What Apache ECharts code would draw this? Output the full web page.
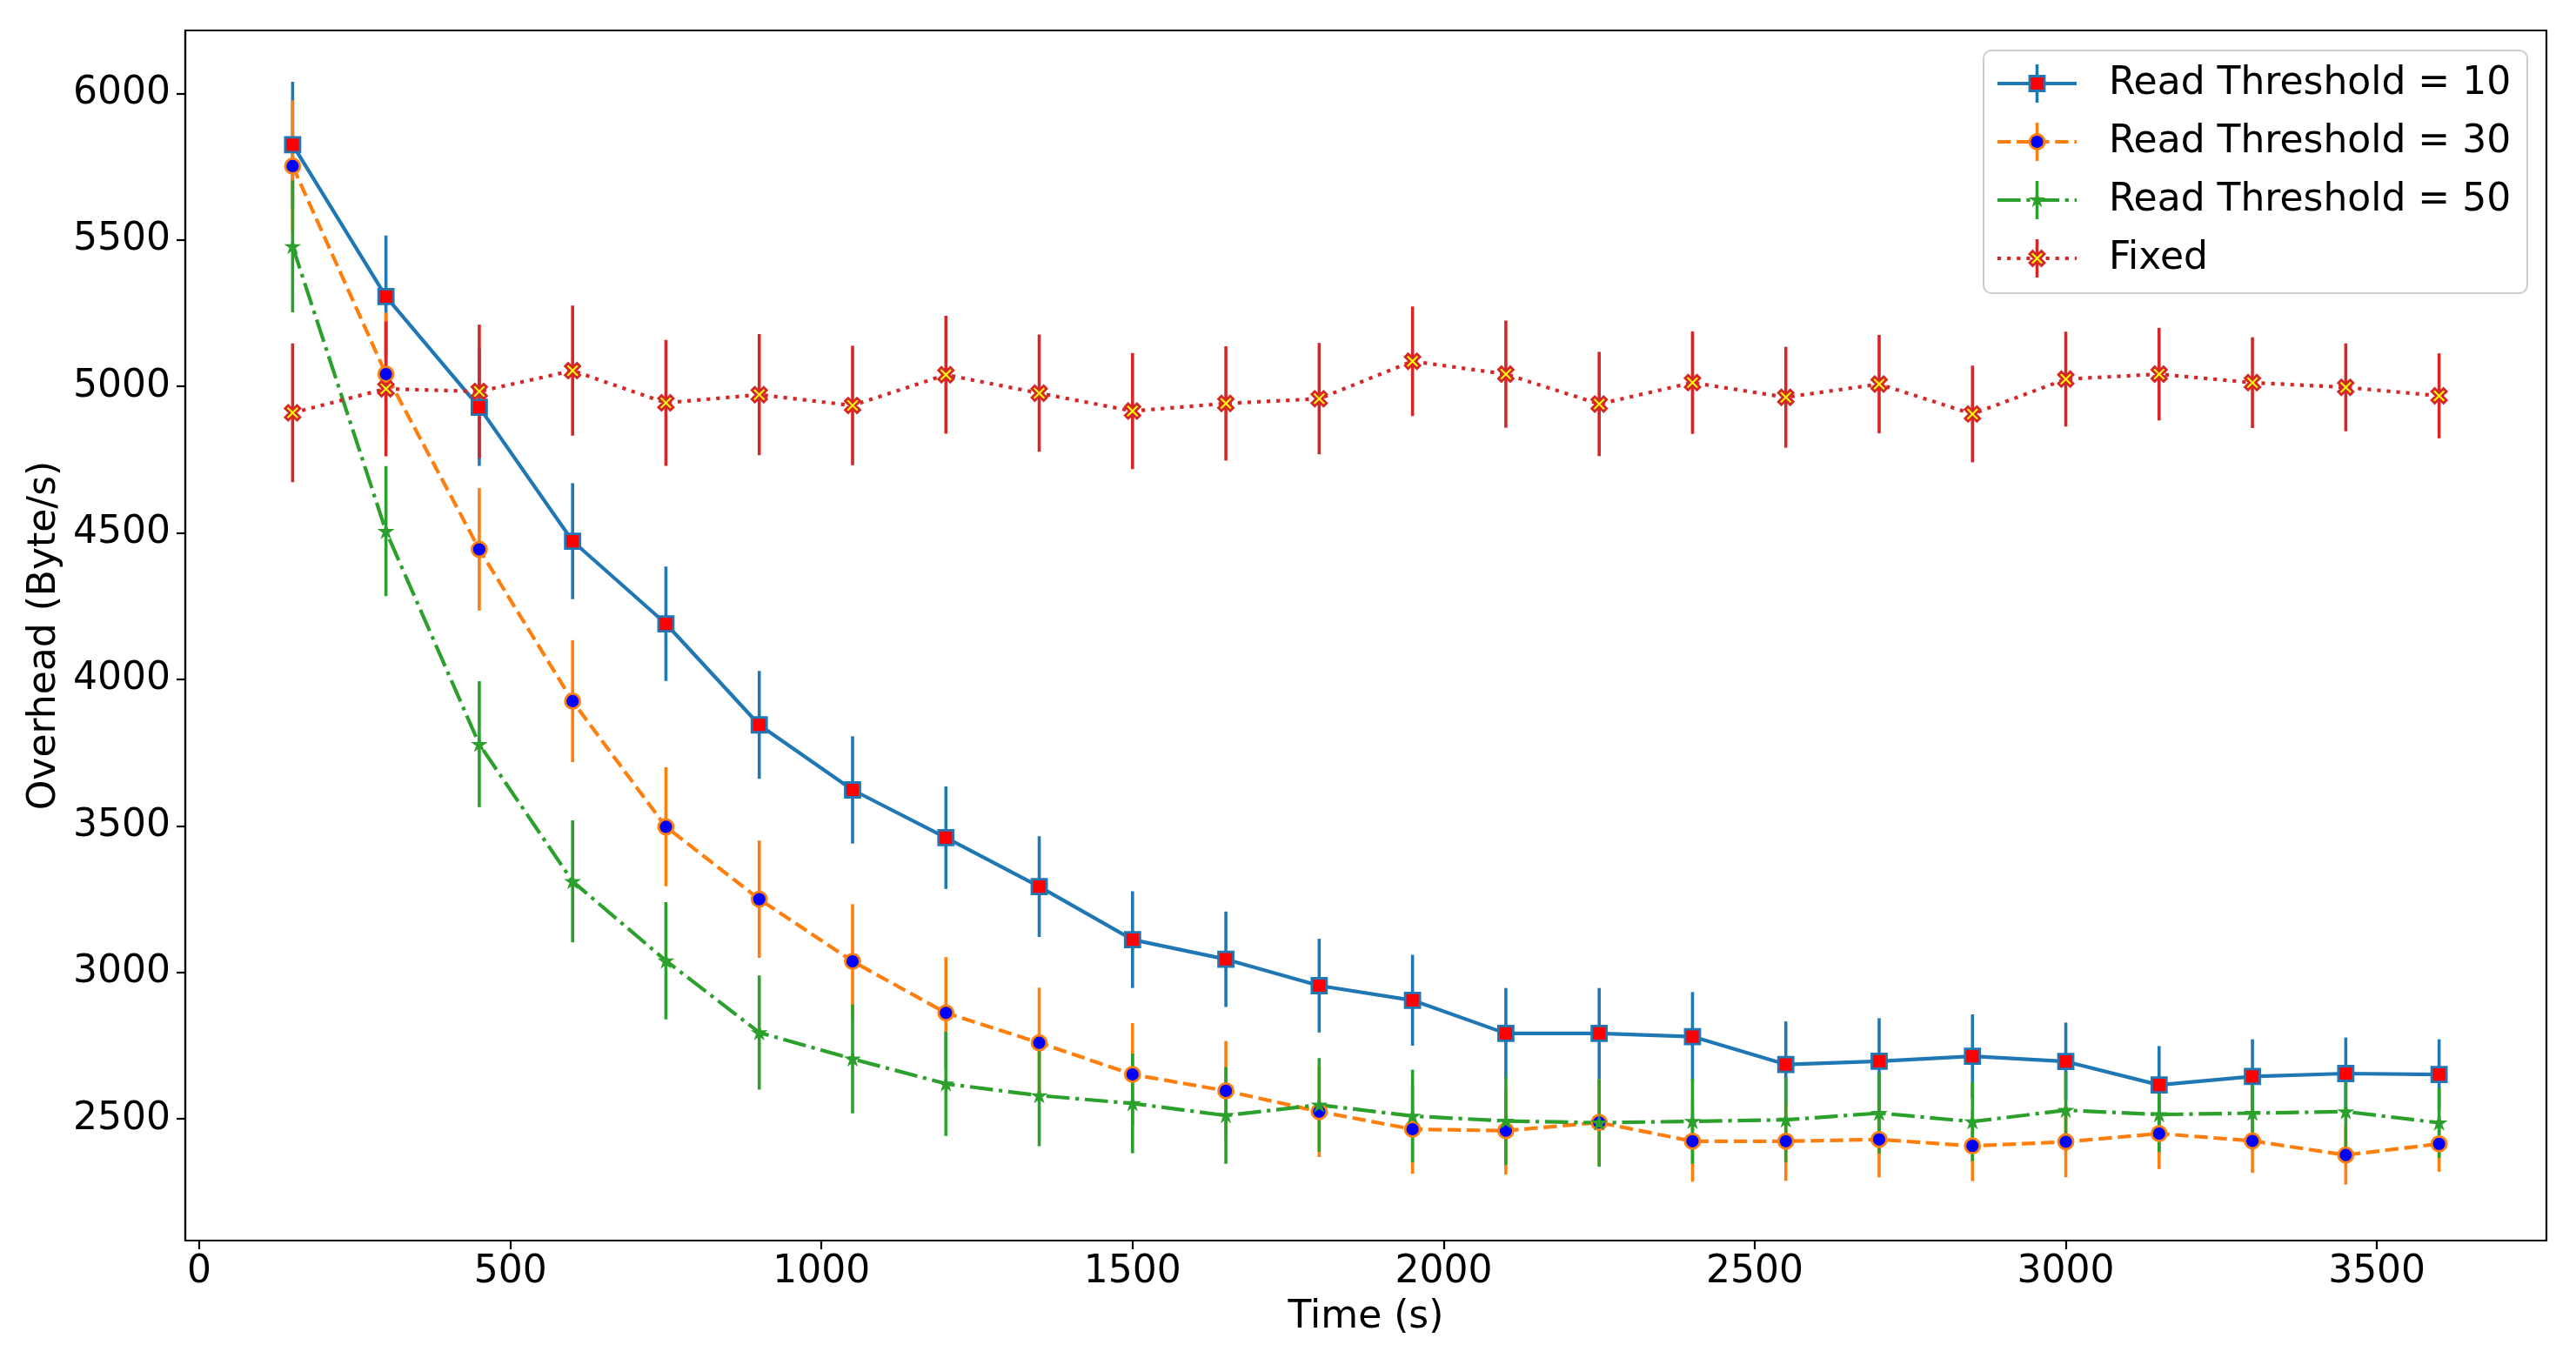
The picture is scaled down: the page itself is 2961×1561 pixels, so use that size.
<!DOCTYPE html>
<html>
<head>
<meta charset="utf-8">
<script src="https://cdn.jsdelivr.net/npm/echarts@6/dist/echarts.min.js"></script>
<style>
html,body{margin:0;padding:0;background:#fff;}
#chart{width:2961px;height:1561px;}
</style>
</head>
<body>
<div id="chart"></div>
<script>
// ---- data ----
const times = [150,300,450,600,750,900,1050,1200,1350,1500,1650,1800,1950,2100,2250,2400,2550,2700,2850,3000,3150,3300,3450,3600];

const rt10Mean = [5825,5307,4929,4472,4190,3845,3623,3460,3293,3112,3045,2955,2905,2792,2792,2781,2686,2697,2714,2696,2616,2645,2655,2652];
const rt10Err  = [215,208,200,198,195,184,183,175,172,165,163,160,155,155,155,152,147,147,143,133,133,127,123,120];

const rt30Mean = [5752,5042,4444,3926,3497,3250,3038,2862,2760,2652,2596,2525,2465,2460,2488,2424,2424,2430,2408,2422,2450,2425,2377,2415];
const rt30Err  = [225,210,209,208,203,200,195,190,188,175,170,155,152,150,145,138,135,129,120,121,121,109,101,95];

const rt50Mean = [5478,4506,3779,3311,3040,2795,2705,2620,2580,2553,2512,2548,2510,2493,2487,2492,2497,2520,2491,2530,2515,2520,2525,2487];
const rt50Err  = [225,222,215,208,200,195,186,178,173,170,165,160,158,150,150,145,145,138,135,130,128,125,122,120];

const fixedMean = [4910,4992,4983,5054,4944,4972,4935,5040,4977,4916,4942,4958,5086,5042,4940,5013,4963,5008,4906,5025,5042,5013,4997,4968];
const fixedErr  = [237,230,228,222,215,207,204,201,200,198,195,190,187,183,178,175,172,168,165,162,158,155,150,145];

const xTicks = [0,500,1000,1500,2000,2500,3000,3500];
const yTicks = [2500,3000,3500,4000,4500,5000,5500,6000];

const seriesNames = ['Read Threshold = 10','Read Threshold = 30','Read Threshold = 50','Fixed'];

// ---- style ----
const FONT = 'DejaVu Sans';
const LW = 4.2;
const STAR_PTS = [[50,0],[61.2,34.5],[97.6,34.5],[68.2,55.9],[79.4,90.5],[50,69.1],[20.6,90.5],[31.8,55.9],[2.4,34.5],[38.8,34.5]];
const X_PTS = [[0,20],[20,0],[50,30],[80,0],[100,20],[70,50],[100,80],[80,100],[50,70],[20,100],[0,80],[30,50]];
function ptsToPath(pts) {
  return 'path://M' + pts.map(p => p[0] + ',' + p[1]).join(' L') + ' Z';
}

const styles = [
  {color:'#1f77b4', dash:'solid', symbol:'rect', size:17, fill:'#ff0000', bw:2.8},
  {color:'#ff7f0e', dash:[15.4,6.7], symbol:'circle', size:17, fill:'#0000ff', bw:2.8},
  {color:'#2ca02c', dash:[26.7,6.7,4.2,6.7], symbol:ptsToPath(STAR_PTS), size:13, fill:'#2ca02c', pts:STAR_PTS, bw:2.2},
  {color:'#d62728', dash:[4.2,6.9], symbol:ptsToPath(X_PTS), size:17, fill:'#ffff00', pts:X_PTS, bw:2.8}
];
const means = [rt10Mean, rt30Mean, rt50Mean, fixedMean];
const errs = [rt10Err, rt30Err, rt50Err, fixedErr];

const series = [];
// error bars first (drawn below all lines, as in matplotlib)
means.forEach((m, k) => {
  const st = styles[k];
  series.push({
    type: 'custom',
    name: seriesNames[k] + ' err',
    z: 2,
    silent: true,
    data: times.map((t, i) => [t, m[i] - errs[k][i], m[i] + errs[k][i]]),
    encode: {x: 0, y: [1, 2]},
    renderItem: function (params, api) {
      const x = api.value(0);
      const p1 = api.coord([x, api.value(1)]);
      const p2 = api.coord([x, api.value(2)]);
      return {
        type: 'line',
        shape: {x1: p1[0], y1: p1[1], x2: p2[0], y2: p2[1]},
        style: {stroke: st.color, lineWidth: 3.6}
      };
    }
  });
});
means.forEach((m, k) => {
  const st = styles[k];
  series.push({
    type: 'line',
    name: seriesNames[k],
    z: 3,
    data: times.map((t, i) => [t, m[i]]),
    symbol: st.symbol,
    symbolSize: st.size,
    symbolKeepAspect: true,
    showSymbol: true,
    showAllSymbol: true,
    lineStyle: {color: st.color, width: LW, type: st.dash, cap: 'butt'},
    itemStyle: {color: st.fill, borderColor: st.color, borderWidth: st.bw},
    emphasis: {disabled: true}
  });
});

// ---- legend drawn as graphic ----
const lgX = 2280, lgY = 58, lgW = 625, lgH = 279;
const rowY = [96, 163, 230, 297];
const lineX1 = 2296, lineX2 = 2387, mX = 2341.5, textX = 2424;
const graphics = [{
  type: 'rect', z: 100,
  shape: {x: lgX, y: lgY, width: lgW, height: lgH, r: 9},
  style: {fill: 'rgba(255,255,255,0.8)', stroke: '#cccccc', lineWidth: 2}
}];
styles.forEach((st, k) => {
  const cy = rowY[k];
  graphics.push({
    type: 'line', z: 101,
    shape: {x1: lineX1, y1: cy, x2: lineX2, y2: cy},
    style: {stroke: st.color, lineWidth: LW, lineDash: st.dash === 'solid' ? null : st.dash}
  });
  graphics.push({
    type: 'line', z: 101,
    shape: {x1: mX, y1: cy - 22, x2: mX, y2: cy + 22},
    style: {stroke: st.color, lineWidth: 3.6}
  });
  const h = st.size / 2;
  let mk;
  if (k === 0) {
    mk = {type: 'rect', shape: {x: mX - h, y: cy - h, width: st.size, height: st.size}};
  } else if (k === 1) {
    mk = {type: 'circle', shape: {cx: mX, cy: cy, r: h}};
  } else {
    const s = st.size / 100;
    mk = {type: 'polygon', shape: {points: st.pts.map(p => [mX - h + p[0] * s, cy - h + p[1] * s])}};
  }
  mk.z = 102;
  mk.style = {fill: st.fill, stroke: st.color, lineWidth: st.bw};
  graphics.push(mk);
  graphics.push({
    type: 'text', z: 102, x: textX, y: cy + 1,
    style: {text: seriesNames[k], fontSize: 44, fontFamily: FONT, fill: '#000', verticalAlign: 'middle', align: 'left'}
  });
});

const axisCommon = {
  type: 'value',
  axisLine: {show: true, onZero: false, lineStyle: {color: '#000', width: 2.2}},
  axisTick: {show: true, length: 10, lineStyle: {color: '#000', width: 2.2}},
  splitLine: {show: false},
  nameLocation: 'middle',
  nameTextStyle: {fontSize: 44, fontFamily: FONT, color: '#000'}
};

const option = {
  animation: false,
  backgroundColor: '#fff',
  grid: {left: 213, top: 35, right: 34, bottom: 135, show: true, borderColor: '#000', borderWidth: 2.2, backgroundColor: 'transparent'},
  xAxis: Object.assign({}, axisCommon, {
    min: -22.5, max: 3772.5,
    name: 'Time (s)', nameGap: 67,
    axisTick: Object.assign({}, axisCommon.axisTick, {customValues: xTicks}),
    axisLabel: {customValues: xTicks, fontSize: 44, fontFamily: FONT, color: '#000', margin: 15, formatter: v => String(v)}
  }),
  yAxis: Object.assign({}, axisCommon, {
    min: 2085, max: 6215,
    name: 'Overhead (Byte/s)', nameGap: 134,
    axisTick: Object.assign({}, axisCommon.axisTick, {customValues: yTicks}),
    axisLabel: {customValues: yTicks, fontSize: 44, fontFamily: FONT, color: '#000', margin: 17, formatter: v => String(v)}
  }),
  series: series,
  graphic: graphics
};

const chart = echarts.init(document.getElementById('chart'), null, {renderer: 'canvas'});
chart.setOption(option);
</script>
</body>
</html>
